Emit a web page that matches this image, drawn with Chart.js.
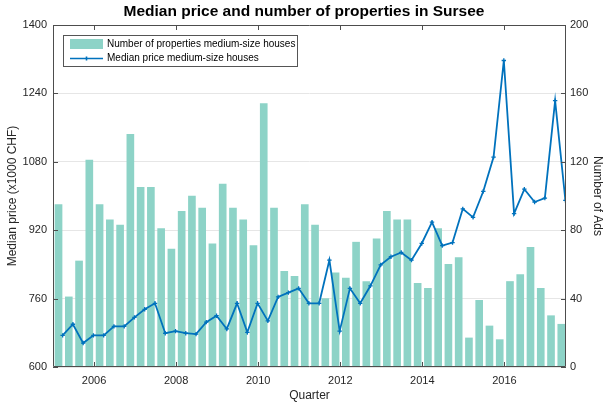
<!DOCTYPE html>
<html>
<head>
<meta charset="utf-8">
<script src="https://cdn.jsdelivr.net/npm/chart.js@4/dist/chart.umd.min.js"></script>
<style>
  html, body { margin: 0; padding: 0; background: #fff; }
  #wrap { width: 608px; height: 405px; position: relative; }
</style>
</head>
<body>
<div id="wrap"><canvas id="chart"></canvas></div>
<script>
// Trimestres (categorias)
const quarters = [
    '2005-Q1', '2005-Q2', '2005-Q3', '2005-Q4', '2006-Q1', '2006-Q2', '2006-Q3', '2006-Q4',
    '2007-Q1', '2007-Q2', '2007-Q3', '2007-Q4', '2008-Q1', '2008-Q2', '2008-Q3', '2008-Q4',
    '2009-Q1', '2009-Q2', '2009-Q3', '2009-Q4', '2010-Q1', '2010-Q2', '2010-Q3', '2010-Q4',
    '2011-Q1', '2011-Q2', '2011-Q3', '2011-Q4', '2012-Q1', '2012-Q2', '2012-Q3', '2012-Q4',
    '2013-Q1', '2013-Q2', '2013-Q3', '2013-Q4', '2014-Q1', '2014-Q2', '2014-Q3', '2014-Q4',
    '2015-Q1', '2015-Q2', '2015-Q3', '2015-Q4', '2016-Q1', '2016-Q2', '2016-Q3', '2016-Q4',
    '2017-Q1', '2017-Q2'
];

// Número de anúncios (eixo direito)
const adCounts = [
    95, 41, 62, 121, 95, 86, 83, 136, 105, 105,
    81, 69, 91, 100, 93, 72, 107, 93, 86, 71,
    154, 93, 56, 53, 95, 83, 40, 55, 52, 73,
    50, 75, 91, 86, 86, 49, 46, 81, 60, 64,
    17, 39, 24, 16, 50, 54, 70, 46, 30, 25
];

// Preço mediano em mil CHF (eixo esquerdo)
const medianPrices = [
    674, 700, 656, 674, 674, 695, 695, 716, 735, 749,
    679, 684, 679, 677, 705, 720, 689, 749, 681, 749,
    708, 764, 774, 784, 749, 749, 850, 684, 784, 749,
    790, 839, 858, 868, 850, 889, 939, 884, 891, 970,
    950, 1011, 1091, 1317, 959, 1016, 986, 995, 1223, 990
];

// Rótulos dos eixos
const xTickYears = [2006, 2008, 2010, 2012, 2014, 2016];
const priceTicks = [600, 760, 920, 1080, 1240, 1400];
const countTicks = [0, 40, 80, 120, 160, 200];

const barColor = '#8dd3c7';
const lineColor = '#0072bd';
const axisColor = '#4d4d4d';
const textColor = '#262626';

// Converte "2005-Q1" em ano decimal
function quarterToYear(q, offset) {
    const parts = q.split('-Q');
    return parseInt(parts[0], 10) + (parseInt(parts[1], 10) - 1) / 4 + offset;
}

const barData = quarters.map((q, i) => ({ x: quarterToYear(q, 0.135), y: adCounts[i] }));
const lineData = quarters.map((q, i) => ({ x: quarterToYear(q, 0.235), y: medianPrices[i] }));

Chart.defaults.font.family = '"Liberation Sans", Arial, sans-serif';
Chart.defaults.color = textColor;

// Caixa do gráfico, marcas internas e legenda (estilo MATLAB)
const boxPlugin = {
    id: 'boxPlugin',
    afterDatasetsDraw(chart) {
        const { ctx, chartArea: a, scales } = chart;
        ctx.save();
        ctx.strokeStyle = axisColor;
        ctx.lineWidth = 1;
        ctx.beginPath();
        ctx.rect(Math.round(a.left) + 0.5, Math.round(a.top) + 0.5,
            Math.round(a.right - a.left) - 1, Math.round(a.bottom - a.top) - 1);
        xTickYears.forEach(v => {
            const px = Math.round(scales.x.getPixelForValue(v)) + 0.5;
            ctx.moveTo(px, a.bottom); ctx.lineTo(px, a.bottom - 5);
            ctx.moveTo(px, a.top); ctx.lineTo(px, a.top + 5);
        });
        priceTicks.forEach(v => {
            const py = Math.round(scales.y.getPixelForValue(v)) + 0.5;
            ctx.moveTo(a.left, py); ctx.lineTo(a.left + 5, py);
        });
        countTicks.forEach(v => {
            const py = Math.round(scales.y1.getPixelForValue(v)) + 0.5;
            ctx.moveTo(a.right, py); ctx.lineTo(a.right - 5, py);
        });
        ctx.stroke();

        // Legenda
        const lx = Math.round(a.left) + 10, ly = Math.round(a.top) + 10;
        ctx.fillStyle = '#fff';
        ctx.fillRect(lx, ly, 234, 31);
        ctx.strokeStyle = '#555';
        ctx.strokeRect(lx + 0.5, ly + 0.5, 234, 31);
        ctx.fillStyle = barColor;
        ctx.fillRect(lx + 7, ly + 4, 33, 10);
        ctx.strokeStyle = lineColor;
        ctx.lineWidth = 1.6;
        ctx.beginPath();
        ctx.moveTo(lx + 7, ly + 23.5); ctx.lineTo(lx + 40, ly + 23.5);
        ctx.moveTo(lx + 23.5, ly + 21.5); ctx.lineTo(lx + 23.5, ly + 25.5);
        ctx.stroke();
        ctx.fillStyle = '#000';
        ctx.font = '10px "Liberation Sans", Arial, sans-serif';
        ctx.textBaseline = 'middle';
        ctx.fillText('Number of properties medium-size houses', lx + 44, ly + 9.5);
        ctx.fillText('Median price medium-size houses', lx + 44, ly + 23.5);
        ctx.restore();
    }
};

const ctx = document.getElementById('chart').getContext('2d');
new Chart(ctx, {
    type: 'bar',
    data: {
        datasets: [
            {
                type: 'line',
                label: 'Median price medium-size houses',
                data: lineData,
                yAxisID: 'y',
                borderColor: lineColor,
                backgroundColor: lineColor,
                borderWidth: 1.8,
                pointStyle: 'cross',
                pointRadius: 2.2,
                pointBorderWidth: 1.3,
                tension: 0,
                order: 0
            },
            {
                type: 'bar',
                label: 'Number of properties medium-size houses',
                data: barData,
                yAxisID: 'y1',
                backgroundColor: barColor,
                barThickness: 7,
                grouped: false,
                order: 1
            }
        ]
    },
    options: {
        responsive: true,
        maintainAspectRatio: false,
        animation: false,
        layout: { padding: 0 },
        plugins: {
            legend: { display: false },
            tooltip: { enabled: false },
            title: {
                display: true,
                text: 'Median price and number of properties in Sursee',
                color: '#000',
                font: { size: 15.5, weight: 'bold' },
                padding: { top: 2.5, bottom: 3.9 }
            }
        },
        scales: {
            x: {
                type: 'linear',
                offset: false,
                min: 2005,
                max: 2017.5,
                afterBuildTicks: scale => { scale.ticks = xTickYears.map(v => ({ value: v })); },
                afterFit: scale => { scale.height = 38; },
                grid: { display: false, drawTicks: false },
                border: { display: false },
                ticks: { padding: 7, font: { size: 11 }, callback: v => String(v), maxRotation: 0 },
                title: { display: true, text: 'Quarter', font: { size: 12 }, padding: { top: 0, bottom: 2 } }
            },
            y: {
                position: 'left',
                min: 600,
                max: 1400,
                afterBuildTicks: scale => { scale.ticks = priceTicks.map(v => ({ value: v })); },
                afterFit: scale => { scale.width = 53; },
                grid: { color: '#e6e6e6', drawTicks: false },
                border: { display: false },
                ticks: { padding: 6, font: { size: 11 }, callback: v => String(v) },
                title: { display: true, text: 'Median price (x1000 CHF)', font: { size: 12 }, padding: { top: 5, bottom: 0 } }
            },
            y1: {
                position: 'right',
                min: 0,
                max: 200,
                afterBuildTicks: scale => { scale.ticks = countTicks.map(v => ({ value: v })); },
                afterFit: scale => { scale.width = 42; },
                grid: { display: false, drawTicks: false },
                border: { display: false },
                ticks: { padding: 4, font: { size: 11 }, callback: v => String(v) },
                title: { display: true, text: 'Number of Ads', font: { size: 12 }, padding: { top: 3, bottom: 0 } }
            }
        }
    },
    plugins: [boxPlugin]
});
</script>
</body>
</html>
